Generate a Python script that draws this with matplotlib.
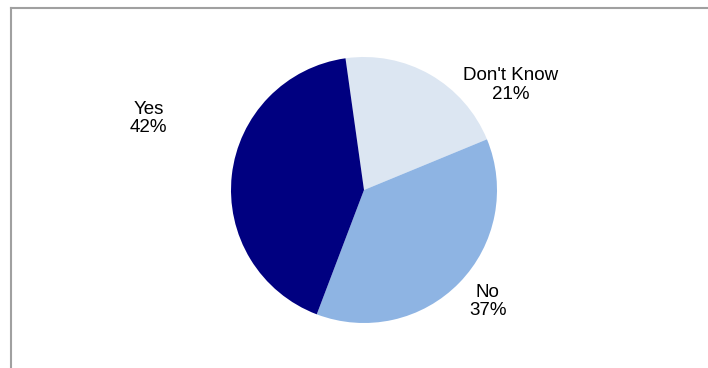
import matplotlib
matplotlib.use("Agg")
import matplotlib.pyplot as plt
from matplotlib.lines import Line2D

# Survey answers
labels = ["Don't Know", "No", "Yes"]
shares = [21, 37, 42]
colors = ["#DCE6F2", "#8EB4E3", "#000080"]

# label anchors (pie units, radius = 1)
label_xy = [(1.10, 0.79), (0.93, -0.84), (-1.62, 0.54)]

plt.rcParams["font.family"] = ["Liberation Sans", "DejaVu Sans"]

W, H, DPI = 708, 368, 100
fig = plt.figure(figsize=(W / DPI, H / DPI), dpi=DPI)
ax = fig.add_axes([0, 0, 1, 1])

cx, cy, r = 364, 178, 133  # centre and radius in pixels
ax.pie(shares, colors=colors, startangle=98, counterclock=False,
       wedgeprops={"edgecolor": "none"})
ax.set_aspect("auto")
ax.set_xlim(-cx / r, (W - cx) / r)
ax.set_ylim(-cy / r, (H - cy) / r)
ax.axis("off")

for lab, val, (x, y) in zip(labels, shares, label_xy):
    ax.text(x, y, f"{lab}\n{val}%", ha="center", va="center",
            fontsize=13.5, linespacing=1.1, color="black")

# frame along the top and left edges
fig.add_artist(Line2D([10.5 / W, 1], [1 - 7.5 / H, 1 - 7.5 / H],
                      transform=fig.transFigure, color="#A0A0A0", lw=1.5))
fig.add_artist(Line2D([10.5 / W, 10.5 / W], [0, 1 - 7.5 / H],
                      transform=fig.transFigure, color="#A0A0A0", lw=1.5))

fig.savefig("out.png", dpi=DPI)
